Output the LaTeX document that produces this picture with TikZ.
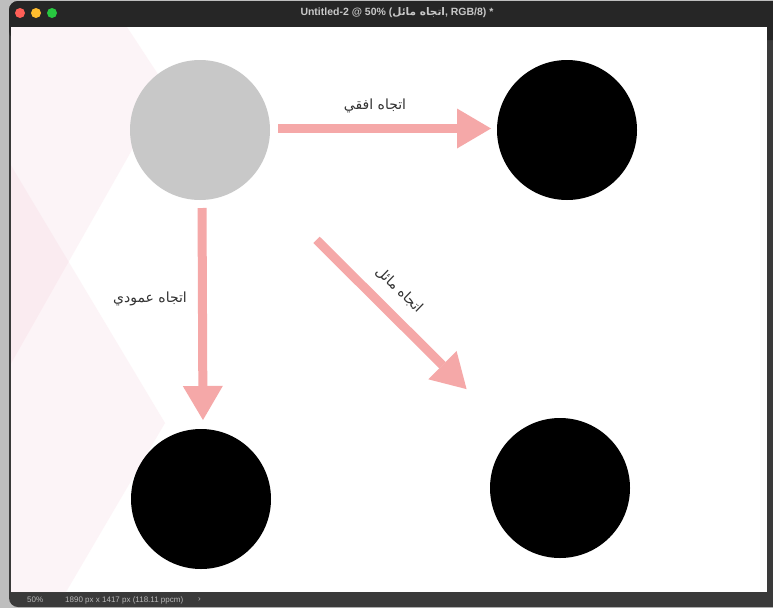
\documentclass[tikz,border=0pt]{standalone}
\usepackage{fontspec}
\setmainfont{Liberation Sans}
\newfontfamily\arabicfont[Script=Arabic]{DejaVu Sans}
\TeXXeTstate=1
\usetikzlibrary{arrows.meta}
\definecolor{arrowpink}{RGB}{245,168,168}
\definecolor{circgray}{RGB}{200,200,200}
\definecolor{bgpink}{RGB}{244,200,216}
\definecolor{outergray}{RGB}{190,190,190}
\definecolor{winframe}{RGB}{58,58,58}
\definecolor{titlebar}{RGB}{38,38,38}
\definecolor{titletext}{RGB}{200,200,200}
\definecolor{stattext}{RGB}{185,185,185}
\definecolor{labeltext}{RGB}{50,50,50}
\definecolor{tlred}{RGB}{255,95,87}
\definecolor{tlyellow}{RGB}{254,188,46}
\definecolor{tlgreen}{RGB}{40,200,64}
\begin{document}
\begin{tikzpicture}[x=1pt,y=-1pt,
  dot/.style={circle,inner sep=0pt,outer sep=0pt,minimum size=140pt},
  blk/.style={draw=arrowpink,line width=9pt,-{Triangle[length=34pt,width=40pt,line width=0pt]}},
  lbl/.style={inner sep=0pt,text=labeltext,font=\arabicfont\fontsize{14}{16}\selectfont},
  stat/.style={inner sep=0pt,anchor=west,text=stattext,font=\fontsize{8}{9}\selectfont}]
\useasboundingbox (0,0) rectangle (773,608);
% window chrome
\fill[outergray] (0,0) rectangle (773,608);
\fill[winframe,rounded corners=9pt] (9,1) rectangle (790,607);
\fill[titlebar,rounded corners=9pt] (9,1) rectangle (790,40);
\fill[titlebar] (9,18) rectangle (790,27);
\fill[white] (11,27) rectangle (767,592);
\fill[tlred] (20,13) circle (5);
\fill[tlyellow] (36,13) circle (5);
\fill[tlgreen] (52,13) circle (5);
\node[inner sep=0pt,text=titletext,font=\fontsize{10.5}{12}\selectfont\bfseries] (title) at (397,13)
  {Untitled-2 @ 50\% ({\arabicfont\beginR اتجاه مائل\endR}, RGB/8) *};
\node[stat] (zoomlvl) at (27,600) {50\%};
\node[stat] (docsize) at (65,600) {1890 px x 1417 px (118.11 ppcm)};
\node[stat] (chev) at (198,600) {›};
% background pink shapes
\begin{scope}
\clip (11,27) rectangle (767,592);
\fill[bgpink,opacity=0.2] (0,27) -- (127,27) -- (167,88) -- (0,383) -- cycle;
\fill[bgpink,opacity=0.2] (0,147) -- (165,423) -- (66,592) -- (0,592) -- cycle;
\end{scope}
% circles
\node[dot,fill=circgray] (g) at (200,130) {};
\node[dot,fill=black] (tr) at (567,130) {};
\node[dot,fill=black] (bl) at (201,499) {};
\node[dot,fill=black] (br) at (560,488) {};
% arrows
\draw[blk,shorten <=8pt,shorten >=6pt] ([yshift=1.5pt]g.east) -- ([yshift=1.5pt]tr.west);
\draw[blk,shorten <=8pt,shorten >=9pt] ([xshift=2pt]g.south) -- ([xshift=2pt]bl.north);
\draw[blk,shorten <=160pt,shorten >=136pt] ([shift={(3,-3)}]g.center) -- ([shift={(3,-3)}]br.center);
% labels
\node[lbl] (lh) at (375,106) {\beginR اتجاه افقي\endR};
\node[lbl] (lv) at (150,299) {\beginR اتجاه عمودي\endR};
\node[lbl,rotate=-44] (ld) at (399,290) {\beginR اتجاه مائل\endR};
\end{tikzpicture}
\end{document}
